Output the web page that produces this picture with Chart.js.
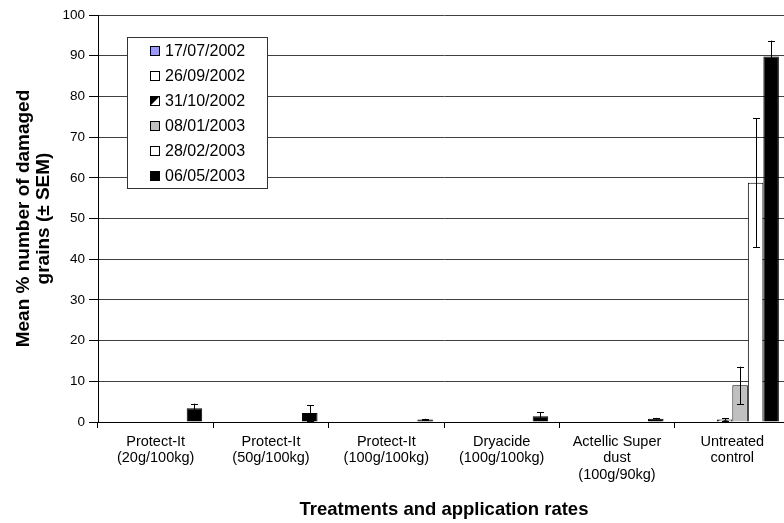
<!DOCTYPE html>
<html><head><meta charset="utf-8">
<script src="https://cdn.jsdelivr.net/npm/chart.js@4"></script>
<style>html,body{margin:0;padding:0;overflow:hidden;background:#fff}#wrap{width:790px;height:523px;position:relative}</style>
</head><body><div id="wrap"><canvas id="c" width="790" height="523" style="width:790px;height:523px"></canvas></div>
<script>
// ---- data ----
const categories = [
  ['Protect-It','(20g/100kg)'],
  ['Protect-It','(50g/100kg)'],
  ['Protect-It','(100g/100kg)'],
  ['Dryacide','(100g/100kg)'],
  ['Actellic Super','dust','(100g/90kg)'],
  ['Untreated','control']
];
const seriesLabels = ['17/07/2002','26/09/2002','31/10/2002','08/01/2003','28/02/2003','06/05/2003'];
const mean_170702 = [0, 0, 0, 0, 0, 0];
const mean_260902 = [0, 0, 0, 0, 0.1, 0.1];
const mean_311002 = [0, 0, 0, 0, 0, 0.6];
const mean_080103 = [0.1, 0, 0, 0, 0.1, 9.0];
const mean_280203 = [0.1, 0.1, 0, 0, 0, 58.8];
const mean_060503 = [3.4, 2.2, 0.6, 1.4, 0.8, 89.8];
const sem_170702 = [0, 0, 0, 0, 0, 0];
const sem_260902 = [0, 0, 0, 0, 0, 0];
const sem_311002 = [0, 0, 0, 0, 0, 0.3];
const sem_080103 = [0, 0, 0, 0, 0, 4.6];
const sem_280203 = [0, 0, 0, 0, 0, 15.8];
const sem_060503 = [1.1, 1.9, 0.2, 1.0, 0.2, 3.9];
const yTicks = [0,10,20,30,40,50,60,70,80,90,100];

// ---- styles ----
const FONT = "'Liberation Sans', Arial, sans-serif";
function makePattern() {
  const p = document.createElement('canvas');
  p.width = 8; p.height = 8;
  const g = p.getContext('2d');
  g.fillStyle = '#fff'; g.fillRect(0,0,8,8);
  g.fillStyle = '#000';
  g.beginPath(); g.moveTo(0,0); g.lineTo(4,0); g.lineTo(0,4); g.closePath(); g.fill();
  g.beginPath(); g.moveTo(8,0); g.lineTo(8,4); g.lineTo(4,8); g.lineTo(0,8); g.closePath(); g.fill();
  return document.getElementById('c').getContext('2d').createPattern(p,'repeat');
}
const pattern = makePattern();
const fills = ['#9999FF', '#FFFFFF', pattern, '#C0C0C0', '#FFFFFF', '#000000'];
const means = [mean_170702, mean_260902, mean_311002, mean_080103, mean_280203, mean_060503];
const sems = [sem_170702, sem_260902, sem_311002, sem_080103, sem_280203, sem_060503];

const datasets = seriesLabels.map((lab, i) => ({
  label: lab,
  data: means[i],
  sem: sems[i],
  backgroundColor: fills[i],
  borderColor: '#000',
  borderWidth: 1,
  categoryPercentage: 0.807,
  barPercentage: 1.0
}));

const errorBars = {
  id: 'errorBars',
  afterDatasetsDraw(chart) {
    const ctx = chart.ctx, y = chart.scales.y;
    ctx.save();
    ctx.strokeStyle = '#000'; ctx.lineWidth = 1;
    chart.data.datasets.forEach((ds, i) => {
      const meta = chart.getDatasetMeta(i);
      ds.sem.forEach((e, j) => {
        if (!e) return;
        const x = Math.round(meta.data[j].x) + 0.5;
        const top = y.getPixelForValue(ds.data[j] + e);
        const bot = y.getPixelForValue(Math.max(0, ds.data[j] - e));
        ctx.beginPath();
        ctx.moveTo(x, bot); ctx.lineTo(x, top);
        ctx.moveTo(x - 3.5, Math.round(top) + 0.5); ctx.lineTo(x + 3.5, Math.round(top) + 0.5);
        ctx.moveTo(x - 3.5, Math.round(bot) + 0.5); ctx.lineTo(x + 3.5, Math.round(bot) + 0.5);
        ctx.stroke();
      });
    });
    ctx.restore();
  }
};

const boxLegend = {
  id: 'boxLegend',
  afterDraw(chart) {
    const ctx = chart.ctx;
    const bx = 127.5, by = 37.5, bw = 140, bh = 151;
    ctx.save();
    ctx.fillStyle = '#fff';
    ctx.fillRect(bx, by, bw, bh);
    ctx.strokeStyle = '#333'; ctx.lineWidth = 1;
    ctx.strokeRect(bx, by, bw, bh);
    ctx.font = '16px ' + FONT;
    ctx.textBaseline = 'middle';
    ctx.textAlign = 'left';
    chart.data.datasets.forEach((ds, i) => {
      const cy = 50.5 + i * 25.1;
      const sx = 150.5, sy = Math.round(cy - 5) + 0.5, s = 9;
      if (i === 2) {
        ctx.fillStyle = '#fff'; ctx.fillRect(sx, sy, s, s);
        ctx.fillStyle = '#000';
        ctx.beginPath(); ctx.moveTo(sx, sy); ctx.lineTo(sx + s, sy); ctx.lineTo(sx, sy + s); ctx.closePath(); ctx.fill();
      } else {
        ctx.fillStyle = ds.backgroundColor; ctx.fillRect(sx, sy, s, s);
      }
      ctx.strokeStyle = '#000';
      ctx.strokeRect(sx, sy, s, s);
      ctx.fillStyle = '#000';
      ctx.fillText(ds.label, 165, cy + 1);
    });
    ctx.restore();
  }
};

new Chart(document.getElementById('c'), {
  type: 'bar',
  data: { labels: categories, datasets },
  plugins: [errorBars, boxLegend],
  options: {
    responsive: false,
    devicePixelRatio: 1,
    animation: false,
    layout: { padding: { top: 15, right: 0, left: 0, bottom: 0 } },
    plugins: { legend: { display: false }, tooltip: { enabled: false } },
    scales: {
      x: {
        offset: true,
        grid: { offset: true, drawOnChartArea: false, drawTicks: true, tickLength: 6, color: '#000' },
        border: { color: '#000', width: 1 },
        ticks: { color: '#000', font: { family: FONT, size: 14.5, lineHeight: 1.12 }, padding: 6, maxRotation: 0, autoSkip: false },
        title: { display: true, text: 'Treatments and application rates', color: '#000',
                 font: { family: FONT, size: 18.5, weight: 'bold', lineHeight: 1.2 }, padding: { top: 0, bottom: 2 } },
        afterFit(s) { s.height = 101; }
      },
      y: {
        min: 0, max: 100,
        afterBuildTicks(s) { s.ticks = yTicks.map(v => ({ value: v })); },
        grid: { color: '#404040', lineWidth: 1, drawTicks: true, tickLength: 9, tickColor: '#000' },
        border: { color: '#000', width: 1 },
        ticks: { color: '#000', font: { family: FONT, size: 13.5 }, padding: 4 },
        title: { display: true, text: ['Mean % number of damaged', 'grains (± SEM)'], color: '#000',
                 font: { family: FONT, size: 19, weight: 'bold', lineHeight: 1.03 }, padding: { top: 14, bottom: 0 } },
        afterFit(s) { s.width = 98; }
      }
    }
  }
});
</script>
</body></html>
